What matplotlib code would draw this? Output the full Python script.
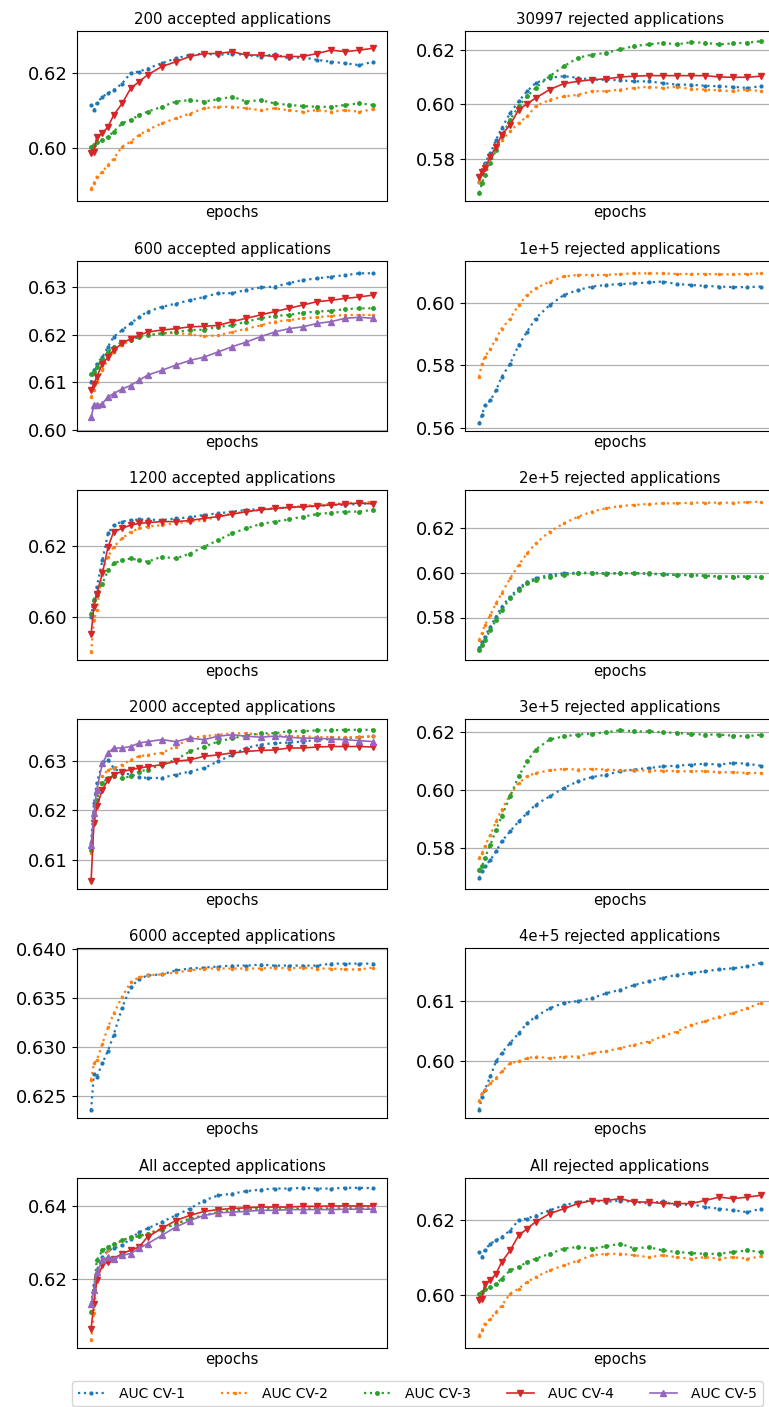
import matplotlib
matplotlib.use("Agg")
import matplotlib.pyplot as plt
from matplotlib.ticker import FormatStrFormatter

epochs = [0, 5, 10, 20, 30, 40, 55, 70, 85, 100, 125, 150, 175, 200, 225,
          250, 275, 300, 325, 350, 375, 400, 425, 450, 475, 499]

labels = ["AUC CV-1", "AUC CV-2", "AUC CV-3", "AUC CV-4", "AUC CV-5"]

# 200 accepted applications
acc200_cv1 = [0.6115, 0.6101, 0.612, 0.6137, 0.6146, 0.6155, 0.6172, 0.620, 0.6204, 0.6212, 0.6226, 0.6239, 0.6248,
              0.6252, 0.6248, 0.6252, 0.6248, 0.6244, 0.625, 0.6239, 0.6242, 0.6235, 0.623, 0.6226, 0.6221, 0.623]
acc200_cv2 = [0.5892, 0.5906, 0.5924, 0.5937, 0.5955, 0.5972, 0.6004, 0.6017, 0.6035, 0.6048, 0.6066, 0.6079, 0.6092,
              0.6106, 0.611, 0.611, 0.6106, 0.6101, 0.6106, 0.6101, 0.6097, 0.6101, 0.6097, 0.6101, 0.6097, 0.6103]
acc200_cv3 = [0.6004, 0.6008, 0.6017, 0.6021, 0.603, 0.6044, 0.6066, 0.6075, 0.6088, 0.6097, 0.611, 0.6124, 0.6128,
              0.6124, 0.613, 0.6137, 0.6124, 0.6128, 0.6119, 0.6115, 0.6112, 0.611, 0.611, 0.6115, 0.6119, 0.6115]
acc200_cv4 = [0.5986, 0.599, 0.603, 0.6039, 0.6057, 0.6088, 0.6119, 0.6159, 0.6177, 0.6195, 0.6217, 0.623, 0.6244,
              0.6252, 0.6252, 0.6257, 0.6248, 0.6248, 0.6244, 0.6244, 0.6244, 0.6252, 0.6261, 0.6257, 0.6261, 0.6266]

# 30997 rejected applications
rej30997_cv1 = [0.5717, 0.576, 0.5785, 0.5821, 0.587, 0.5913, 0.5968, 0.6011, 0.6048, 0.6078, 0.6097, 0.6103, 0.6097,
                0.609, 0.609, 0.6088, 0.6084, 0.6084, 0.6078, 0.6072, 0.6072, 0.6068, 0.6066, 0.6064, 0.606, 0.6066]
rej30997_cv2 = [0.5717, 0.5748, 0.5773, 0.5809, 0.584, 0.587, 0.5901, 0.5932, 0.5956, 0.5993, 0.6017, 0.6029, 0.6035,
                0.6048, 0.6048, 0.6054, 0.606, 0.6064, 0.606, 0.6064, 0.6056, 0.6054, 0.6051, 0.6048, 0.6054, 0.6048]
rej30997_cv3 = [0.5677, 0.5711, 0.5742, 0.5785, 0.5834, 0.5883, 0.5944, 0.5993, 0.6029, 0.606, 0.6103, 0.6139, 0.617,
                0.6182, 0.6188, 0.6201, 0.6213, 0.6219, 0.6225, 0.6219, 0.6227, 0.6225, 0.6219, 0.6223, 0.6225, 0.6231]
rej30997_cv4 = [0.5736, 0.5754, 0.5766, 0.5809, 0.5846, 0.5889, 0.5925, 0.598, 0.6002, 0.6023, 0.6054, 0.6076, 0.6084,
                0.609, 0.6093, 0.61, 0.6103, 0.6105, 0.6105, 0.6105, 0.6105, 0.6105, 0.61, 0.6099, 0.6099, 0.6103]

# 600 accepted applications
acc600_cv1 = [0.61, 0.6125, 0.6139, 0.6153, 0.6175, 0.6196, 0.621, 0.6224, 0.6238, 0.6249, 0.6259, 0.6266, 0.6273,
              0.628, 0.6288, 0.6288, 0.6295, 0.630, 0.6302, 0.6309, 0.6316, 0.6319, 0.6323, 0.6326, 0.633, 0.633]
acc600_cv2 = [0.6069, 0.6083, 0.61, 0.6125, 0.615, 0.6164, 0.6178, 0.6189, 0.6196, 0.6199, 0.6203, 0.6204, 0.6201,
              0.6197, 0.6199, 0.6206, 0.6213, 0.622, 0.6228, 0.6231, 0.6235, 0.6237, 0.624, 0.6242, 0.6242, 0.6242]
acc600_cv3 = [0.6118, 0.6122, 0.6132, 0.615, 0.6164, 0.6175, 0.6185, 0.6189, 0.6196, 0.6199, 0.6203, 0.6206, 0.621,
              0.6211, 0.6217, 0.622, 0.6228, 0.6235, 0.624, 0.6242, 0.6247, 0.6249, 0.6251, 0.6254, 0.6256, 0.6256]
acc600_cv4 = [0.6083, 0.6097, 0.6111, 0.6139, 0.6153, 0.6168, 0.6182, 0.6192, 0.6199, 0.6206, 0.621, 0.6213, 0.6217,
              0.6218, 0.622, 0.6228, 0.6235, 0.6242, 0.6249, 0.6256, 0.6263, 0.627, 0.6273, 0.6277, 0.628, 0.6284]
acc600_cv5 = [0.6026, 0.6051, 0.6051, 0.6055, 0.6069, 0.6076, 0.6086, 0.6093, 0.6104, 0.6115, 0.6125, 0.6136, 0.6146,
              0.6153, 0.6164, 0.6175, 0.6185, 0.6196, 0.6206, 0.6213, 0.6217, 0.6224, 0.6228, 0.6235, 0.6237, 0.6235]

# 1e+5 rejected applications
rej1e5_cv1 = [0.5615, 0.564, 0.5672, 0.5688, 0.572, 0.5763, 0.5805, 0.5864, 0.5907, 0.5949, 0.5992, 0.6024, 0.604,
              0.6051, 0.6056, 0.6059, 0.6061, 0.6064, 0.6067, 0.6059, 0.6056, 0.6053, 0.6051, 0.6049, 0.6049, 0.6051]
rej1e5_cv2 = [0.5763, 0.5805, 0.5827, 0.5853, 0.5885, 0.5917, 0.5949, 0.5992, 0.6024, 0.6045, 0.6067, 0.6083, 0.6088,
              0.6088, 0.6088, 0.6091, 0.6093, 0.6093, 0.6093, 0.6091, 0.6091, 0.6091, 0.609, 0.609, 0.6091, 0.6093]

# 1200 accepted applications
acc1200_cv1 = [0.6001, 0.6048, 0.6086, 0.6161, 0.6237, 0.626, 0.627, 0.6274, 0.6276, 0.6276, 0.6274, 0.6279, 0.6282,
               0.6289, 0.6293, 0.6298, 0.6303, 0.6305, 0.6307, 0.631, 0.6312, 0.6314, 0.6317, 0.6317, 0.632, 0.6322]
acc1200_cv2 = [0.5902, 0.5992, 0.602, 0.6133, 0.6171, 0.6199, 0.6223, 0.6241, 0.6251, 0.6256, 0.626, 0.6265, 0.627,
               0.6274, 0.6284, 0.6293, 0.6298, 0.6303, 0.6307, 0.631, 0.6314, 0.6317, 0.632, 0.6322, 0.6323, 0.6326]
acc1200_cv3 = [0.601, 0.6048, 0.6062, 0.6095, 0.6133, 0.6152, 0.6161, 0.6166, 0.6161, 0.6157, 0.6171, 0.6166, 0.618,
               0.6199, 0.6218, 0.6237, 0.6251, 0.6263, 0.627, 0.6276, 0.6284, 0.6291, 0.6295, 0.6298, 0.6298, 0.6303]
acc1200_cv4 = [0.5954, 0.6029, 0.6067, 0.6124, 0.6199, 0.6241, 0.6251, 0.626, 0.6265, 0.6267, 0.627, 0.627, 0.6273,
               0.6279, 0.6284, 0.6291, 0.6298, 0.6303, 0.6307, 0.631, 0.6312, 0.6314, 0.6317, 0.632, 0.6322, 0.632]

# 2e+5 rejected applications
rej2e5_cv1 = [0.5661, 0.5691, 0.5714, 0.5759, 0.5804, 0.5849, 0.5894, 0.5931, 0.5961, 0.5976, 0.5991, 0.5999, 0.6001,
              0.6001, 0.5999, 0.5999, 0.5999, 0.5996, 0.5994, 0.5991, 0.5991, 0.5987, 0.5984, 0.5984, 0.5984, 0.5984]
rej2e5_cv2 = [0.5699, 0.5729, 0.5766, 0.5811, 0.5864, 0.5909, 0.5976, 0.6036, 0.6088, 0.6133, 0.6186, 0.6223, 0.6253,
              0.6276, 0.6291, 0.6301, 0.6306, 0.631, 0.6313, 0.6313, 0.6316, 0.6316, 0.6316, 0.6316, 0.6318, 0.6321]
rej2e5_cv3 = [0.5654, 0.5676, 0.5699, 0.5744, 0.5789, 0.5834, 0.5886, 0.5924, 0.5954, 0.5969, 0.5984, 0.5991, 0.5999,
              0.5999, 0.5996, 0.5999, 0.5999, 0.5999, 0.5994, 0.5991, 0.5991, 0.5988, 0.5984, 0.5984, 0.5984, 0.5981]

# 2000 accepted applications
acc2000_cv1 = [0.6134, 0.6215, 0.6256, 0.6296, 0.6303, 0.6286, 0.6276, 0.6273, 0.6268, 0.6266, 0.6266, 0.6273, 0.6279,
               0.6286, 0.630, 0.6313, 0.6327, 0.6334, 0.6337, 0.6338, 0.634, 0.6344, 0.6345, 0.6347, 0.6349, 0.6351]
acc2000_cv2 = [0.6113, 0.6188, 0.6235, 0.6269, 0.6283, 0.6286, 0.6293, 0.6303, 0.631, 0.6313, 0.6317, 0.633, 0.6347,
               0.6351, 0.6354, 0.6357, 0.6357, 0.6354, 0.6354, 0.6351, 0.6351, 0.6349, 0.6349, 0.6349, 0.6349, 0.6351]
acc2000_cv3 = [0.612, 0.6174, 0.6222, 0.6256, 0.6266, 0.6269, 0.6266, 0.6269, 0.6279, 0.6283, 0.6293, 0.6303, 0.632,
               0.633, 0.634, 0.6347, 0.6352, 0.6357, 0.6357, 0.6361, 0.6361, 0.6363, 0.6363, 0.6364, 0.6364, 0.6364]
acc2000_cv4 = [0.6056, 0.6174, 0.6208, 0.6242, 0.6262, 0.6273, 0.6279, 0.6283, 0.6286, 0.6289, 0.6293, 0.630, 0.6303,
               0.631, 0.6313, 0.6317, 0.632, 0.6322, 0.6323, 0.6327, 0.6327, 0.6329, 0.633, 0.633, 0.633, 0.6329]
acc2000_cv5 = [0.613, 0.6195, 0.6242, 0.6296, 0.6317, 0.6327, 0.6327, 0.633, 0.6337, 0.634, 0.6344, 0.634, 0.6347,
               0.6344, 0.6351, 0.6354, 0.6351, 0.6349, 0.6351, 0.6349, 0.6347, 0.6347, 0.6345, 0.6344, 0.6342, 0.634]

# 3e+5 rejected applications
rej3e5_cv1 = [0.5695, 0.5718, 0.5735, 0.5758, 0.5787, 0.5822, 0.5857, 0.5891, 0.592, 0.5949, 0.5978, 0.6007, 0.603,
              0.6045, 0.6053, 0.6065, 0.6071, 0.6076, 0.6082, 0.6084, 0.6088, 0.6091, 0.6088, 0.6094, 0.6091, 0.6084]
rej3e5_cv2 = [0.5764, 0.5782, 0.5805, 0.5845, 0.5891, 0.5932, 0.5984, 0.6024, 0.6047, 0.6059, 0.6068, 0.6073, 0.6071,
              0.6073, 0.6071, 0.6068, 0.6068, 0.6067, 0.6067, 0.6065, 0.6065, 0.6065, 0.6062, 0.6061, 0.6059, 0.6059]
rej3e5_cv3 = [0.5724, 0.5735, 0.5764, 0.581, 0.5862, 0.5909, 0.5978, 0.6047, 0.6099, 0.614, 0.6175, 0.6186, 0.6192,
              0.6195, 0.620, 0.6207, 0.6203, 0.6203, 0.620, 0.6198, 0.6194, 0.6192, 0.6192, 0.6188, 0.6186, 0.6192]

# 6000 accepted applications
acc6000_cv1 = [0.6235, 0.6272, 0.6269, 0.6283, 0.6296, 0.6312, 0.634, 0.6361, 0.6369, 0.6373, 0.6374, 0.6378, 0.638,
               0.6381, 0.6382, 0.6383, 0.6383, 0.6384, 0.6383, 0.6383, 0.6383, 0.6383, 0.6385, 0.6385, 0.6385, 0.6385]
acc6000_cv2 = [0.6266, 0.6283, 0.6286, 0.6303, 0.632, 0.6334, 0.6351, 0.6366, 0.6371, 0.6373, 0.6374, 0.6376, 0.6378,
               0.638, 0.638, 0.638, 0.638, 0.638, 0.6381, 0.638, 0.6381, 0.638, 0.638, 0.6379, 0.6379, 0.6381]

# 4e+5 rejected applications
rej4e5_cv1 = [0.5918, 0.594, 0.5951, 0.5974, 0.5999, 0.6013, 0.603, 0.6046, 0.6063, 0.6074, 0.6088, 0.6097, 0.610,
              0.6105, 0.6113, 0.6119, 0.6127, 0.6133, 0.6139, 0.6144, 0.6147, 0.615, 0.6153, 0.6155, 0.6158, 0.6164]
rej4e5_cv2 = [0.5932, 0.5946, 0.5951, 0.5963, 0.5971, 0.5982, 0.5996, 0.5999, 0.6004, 0.6007, 0.6004, 0.6007, 0.6007,
              0.6013, 0.6016, 0.6021, 0.6027, 0.6032, 0.6041, 0.6049, 0.606, 0.6066, 0.6074, 0.608, 0.6088, 0.6097]

# All accepted applications
accall_cv1 = [0.6131, 0.6182, 0.6223, 0.626, 0.6278, 0.6283, 0.6292, 0.631, 0.6328, 0.6338, 0.6356, 0.6374, 0.6393,
              0.6415, 0.6429, 0.6434, 0.6441, 0.6445, 0.6448, 0.6448, 0.645, 0.6448, 0.6448, 0.645, 0.645, 0.6449]
accall_cv2 = [0.603, 0.6104, 0.6205, 0.625, 0.6278, 0.6292, 0.6305, 0.6313, 0.6319, 0.6324, 0.6338, 0.6351, 0.6365,
              0.6374, 0.6383, 0.6388, 0.639, 0.6393, 0.6393, 0.6393, 0.6394, 0.6394, 0.6394, 0.6395, 0.6395, 0.6395]
accall_cv3 = [0.6108, 0.6168, 0.625, 0.6278, 0.6287, 0.6296, 0.6305, 0.6315, 0.6316, 0.6324, 0.6335, 0.6351, 0.6365,
              0.6374, 0.6383, 0.6388, 0.639, 0.6391, 0.6391, 0.6391, 0.6392, 0.6392, 0.6393, 0.6393, 0.6393, 0.6392]
accall_cv4 = [0.6062, 0.6131, 0.6195, 0.6237, 0.6246, 0.6255, 0.6269, 0.6278, 0.6287, 0.6315, 0.6338, 0.636, 0.6374,
              0.6385, 0.639, 0.6393, 0.6395, 0.6397, 0.6397, 0.6397, 0.6399, 0.6399, 0.640, 0.640, 0.640, 0.640]
accall_cv5 = [0.6131, 0.6168, 0.6218, 0.625, 0.626, 0.6255, 0.6264, 0.6269, 0.6283, 0.6296, 0.6319, 0.6342, 0.636,
              0.6374, 0.6381, 0.6383, 0.6385, 0.6388, 0.6388, 0.639, 0.639, 0.639, 0.639, 0.6391, 0.6391, 0.6391]

# All rejected applications (same curves as the 200 accepted run)
rejall_cv1 = acc200_cv1
rejall_cv2 = acc200_cv2
rejall_cv3 = acc200_cv3
rejall_cv4 = acc200_cv4

styles = [
    dict(color="C0", ls=":", lw=1.6, marker=".", ms=4),
    dict(color="C1", ls=":", lw=1.6, marker=".", ms=3),
    dict(color="C2", ls=":", lw=1.6, marker="o", ms=2.5),
    dict(color="C3", ls="-", lw=1.2, marker="v", ms=4),
    dict(color="C4", ls="-", lw=1.2, marker="^", ms=4),
]

panels = [
    ("200 accepted applications", [acc200_cv1, acc200_cv2, acc200_cv3, acc200_cv4],
     (0.5859, 0.6312), [0.60, 0.62], "%.2f"),
    ("30997 rejected applications", [rej30997_cv1, rej30997_cv2, rej30997_cv3, rej30997_cv4],
     (0.5647, 0.6268), [0.58, 0.60, 0.62], "%.2f"),
    ("600 accepted applications", [acc600_cv1, acc600_cv2, acc600_cv3, acc600_cv4, acc600_cv5],
     (0.5998, 0.6357), [0.60, 0.61, 0.62, 0.63], "%.2f"),
    ("1e+5 rejected applications", [rej1e5_cv1, rej1e5_cv2],
     (0.5592, 0.6134), [0.56, 0.58, 0.60], "%.2f"),
    ("1200 accepted applications", [acc1200_cv1, acc1200_cv2, acc1200_cv3, acc1200_cv4],
     (0.588, 0.6359), [0.60, 0.62], "%.2f"),
    ("2e+5 rejected applications", [rej2e5_cv1, rej2e5_cv2, rej2e5_cv3],
     (0.5609, 0.6373), [0.58, 0.60, 0.62], "%.2f"),
    ("2000 accepted applications", [acc2000_cv1, acc2000_cv2, acc2000_cv3, acc2000_cv4, acc2000_cv5],
     (0.604, 0.6386), [0.61, 0.62, 0.63], "%.2f"),
    ("3e+5 rejected applications", [rej3e5_cv1, rej3e5_cv2, rej3e5_cv3],
     (0.5657, 0.6246), [0.58, 0.60, 0.62], "%.2f"),
    ("6000 accepted applications", [acc6000_cv1, acc6000_cv2],
     (0.6227, 0.6401), [0.625, 0.630, 0.635, 0.640], "%.3f"),
    ("4e+5 rejected applications", [rej4e5_cv1, rej4e5_cv2],
     (0.5904, 0.6189), [0.60, 0.61], "%.2f"),
    ("All accepted applications", [accall_cv1, accall_cv2, accall_cv3, accall_cv4, accall_cv5],
     (0.6009, 0.6477), [0.62, 0.64], "%.2f"),
    ("All rejected applications", [rejall_cv1, rejall_cv2, rejall_cv3, rejall_cv4],
     (0.5859, 0.6312), [0.60, 0.62], "%.2f"),
]

W, H = 769, 1407
fig = plt.figure(figsize=(W / 100, H / 100), dpi=100)

col_left = [77, 465]
row_top = [31, 260.5, 490, 719, 948, 1178]
ax_w, ax_h = 310, 170

handles = None
for i, (title, series, ylim, yticks, fmt) in enumerate(panels):
    r, c = divmod(i, 2)
    ax = fig.add_axes([col_left[c] / W, 1 - (row_top[r] + ax_h) / H, ax_w / W, ax_h / H])
    lines = []
    for k, ys in enumerate(series):
        ln, = ax.plot(epochs, ys, label=labels[k], **styles[k])
        lines.append(ln)
    if handles is None or len(lines) > len(handles):
        handles = lines
    ax.set_title(title, fontsize=10.7, pad=5)
    ax.set_xlabel("epochs", fontsize=10.7, labelpad=3)
    ax.set_xticks([])
    ax.set_ylim(*ylim)
    ax.set_yticks(yticks)
    ax.yaxis.set_major_formatter(FormatStrFormatter(fmt))
    ax.tick_params(axis="y", labelsize=13)
    ax.grid(axis="y", color="#b0b0b0", lw=0.9)
    ax.set_axisbelow(True)

fig.legend(handles, labels, loc="lower left", bbox_to_anchor=(72 / W, 0.0005),
           ncol=5, fontsize=10, columnspacing=2.55, handletextpad=1.0,
           borderaxespad=0.0, borderpad=0.4, frameon=True)

fig.savefig("out.png", dpi=100)
